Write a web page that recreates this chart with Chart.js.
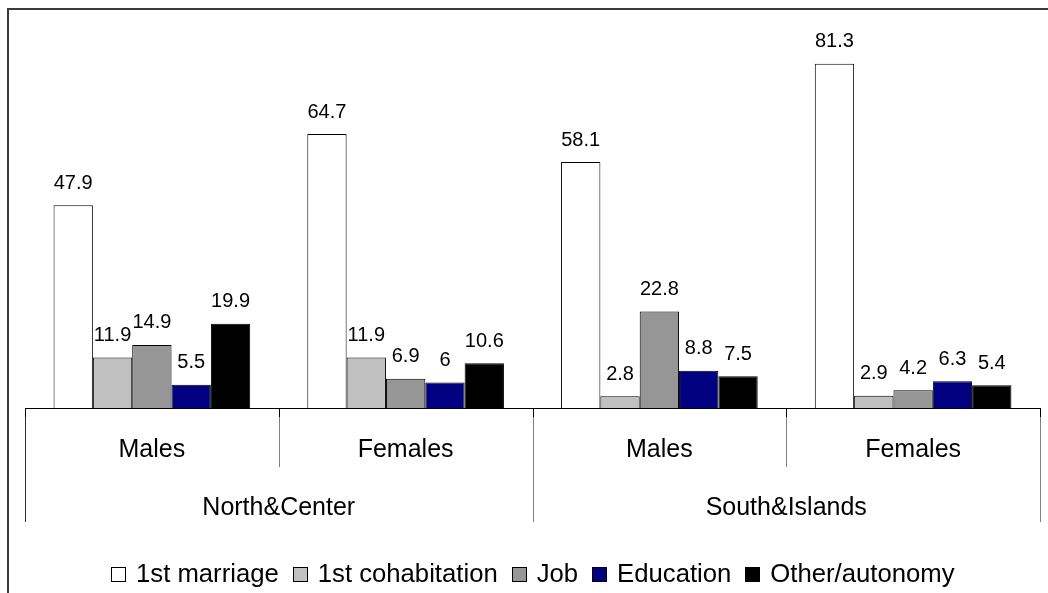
<!DOCTYPE html>
<html>
<head>
<meta charset="utf-8">
<title>Reasons for leaving the parental home</title>
<script src="https://cdn.jsdelivr.net/npm/chart.js@4.4.1/dist/chart.umd.min.js"></script>
<style>
  html, body { margin: 0; padding: 0; background: #ffffff; }
  #wrap { width: 1048px; height: 593px; }
</style>
</head>
<body>
<div id="wrap"><canvas id="chart" width="1048" height="593"></canvas></div>
<script>
// Sub-groups on the first axis row and regions on the second
const categories = ['Males', 'Females', 'Males', 'Females'];
const regions = ['North&Center', 'South&Islands'];
const seriesNames = ['1st marriage', '1st cohabitation', 'Job', 'Education', 'Other/autonomy'];

// Percentages per series, in category order
const firstMarriage     = [47.9, 64.7, 58.1, 81.3];
const firstCohabitation = [11.9, 11.9, 2.8, 2.9];
const job               = [14.9, 6.9, 22.8, 4.2];
const education         = [5.5, 6, 8.8, 6.3];
const otherAutonomy     = [19.9, 10.6, 7.5, 5.4];

const seriesValues = [firstMarriage, firstCohabitation, job, education, otherAutonomy];
const seriesColors = ['#ffffff', '#c0c0c0', '#969696', '#000080', '#000000'];

const FONT = "'Liberation Sans', Arial, Helvetica, sans-serif";

const decorations = {
  id: 'decorations',
  beforeDraw(chart) {
    const ctx = chart.ctx;
    ctx.save();
    ctx.fillStyle = '#ffffff';
    ctx.fillRect(0, 0, chart.width, chart.height);
    ctx.restore();
  },
  afterDatasetsDraw(chart) {
    const ctx = chart.ctx;
    const area = chart.chartArea;
    const xs = chart.scales.x;
    const ys = chart.scales.y;
    const baseY = Math.round(ys.getPixelForValue(0));
    const n = categories.length;
    const step = (area.right - area.left) / n;

    ctx.save();

    // value labels above each bar
    ctx.fillStyle = '#000000';
    ctx.font = '20px ' + FONT;
    ctx.textAlign = 'center';
    ctx.textBaseline = 'alphabetic';
    chart.data.datasets.forEach((ds, di) => {
      const meta = chart.getDatasetMeta(di);
      meta.data.forEach((bar, i) => {
        ctx.fillText(String(ds.data[i]), bar.x, bar.y - 16.5);
      });
    });

    // category axis line
    ctx.fillStyle = '#000000';
    ctx.fillRect(Math.round(area.left), baseY, Math.round(area.right - area.left) + 1, 1);

    // separators between categories; region boundaries run deeper
    for (let k = 0; k <= n; k++) {
      const x = Math.round(area.left + k * step);
      const isRegionEdge = (k % 2 === 0);
      const bottom = isRegionEdge ? 522 : 467;
      ctx.fillStyle = '#000000';
      ctx.fillRect(x, baseY, 1, 9);
      ctx.fillStyle = (k === 0) ? '#333333' : '#808080';
      ctx.fillRect(x, baseY + 9, 1, bottom - baseY - 9);
    }

    // category labels
    ctx.fillStyle = '#000000';
    ctx.font = '25px ' + FONT;
    categories.forEach((c, i) => {
      ctx.fillText(c, xs.getPixelForValue(i), 457);
    });
    // region labels
    regions.forEach((r, j) => {
      const cx = area.left + (2 * j + 1) * step;
      ctx.fillText(r, cx, 515);
    });

    // legend
    const boxSize = 15, gap = 10, spacing = 14;
    ctx.font = '25.7px ' + FONT;
    const widths = chart.data.datasets.map(ds => ctx.measureText(ds.label).width);
    let total = 0;
    widths.forEach((w, i) => { total += boxSize + gap + w + (i < widths.length - 1 ? spacing : 0); });
    let x = Math.round(533 - total / 2);
    ctx.textAlign = 'left';
    chart.data.datasets.forEach((ds, i) => {
      const bx = Math.round(x);
      ctx.fillStyle = ds.backgroundColor;
      ctx.fillRect(bx, 567, boxSize, boxSize);
      ctx.strokeStyle = '#000000';
      ctx.lineWidth = 1;
      ctx.strokeRect(bx + 0.5, 567.5, boxSize - 1, boxSize - 1);
      ctx.fillStyle = '#000000';
      ctx.fillText(ds.label, x + boxSize + gap, 582);
      x += boxSize + gap + widths[i] + spacing;
    });

    // outer frame
    ctx.fillStyle = '#3a3a3a';
    ctx.fillRect(7, 8, chart.width - 7, 2);
    ctx.fillRect(7, 8, 2, chart.height - 8);

    ctx.restore();
  }
};

new Chart(document.getElementById('chart'), {
  type: 'bar',
  data: {
    labels: categories,
    datasets: seriesNames.map((name, i) => ({
      label: name,
      data: seriesValues[i],
      backgroundColor: seriesColors[i],
      borderColor: '#000000',
      borderWidth: 1,
      categoryPercentage: 0.775,
      barPercentage: 1.0
    }))
  },
  options: {
    responsive: false,
    animation: false,
    devicePixelRatio: 1,
    layout: { padding: { left: 25, right: 8, top: 27, bottom: 185 } },
    scales: {
      x: { display: false },
      y: { display: false, min: 0, max: 90 }
    },
    plugins: {
      legend: { display: false },
      tooltip: { enabled: false }
    }
  },
  plugins: [decorations]
});
</script>
</body>
</html>
